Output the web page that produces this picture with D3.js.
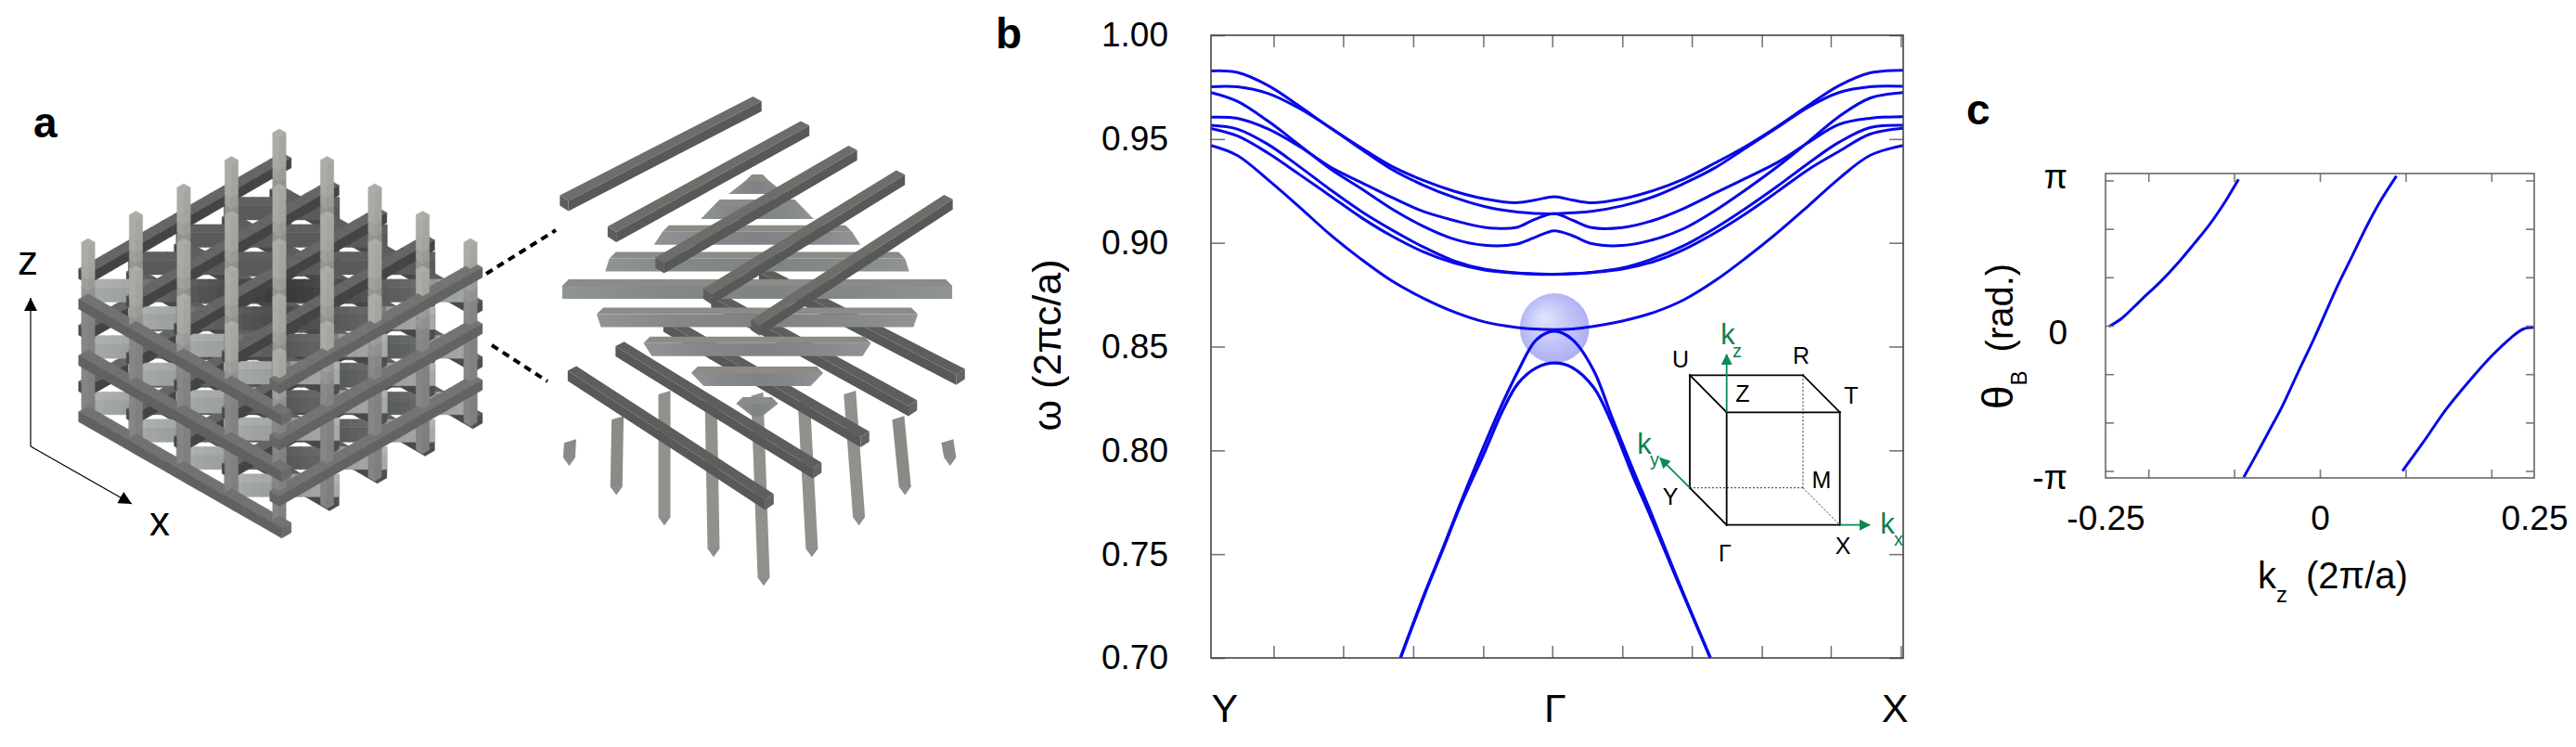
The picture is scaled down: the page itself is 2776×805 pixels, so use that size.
<!DOCTYPE html>
<html>
<head>
<meta charset="utf-8">
<script src="https://cdn.jsdelivr.net/npm/d3@7"></script>
<style>
  body { margin: 0; background: #fff; }
  text { font-family: "Liberation Sans", Arial, sans-serif; fill: #000; }
</style>
</head>
<body>
<div id="content"></div>
<script>
// panel b : band structure, k runs from Y (0) through Gamma to X (1)
var bandK = [0, .038, .083, .127, .172, .217, .261, .306, .351, .395, .440, .467, .496,
             .523, .550, .594, .639, .684, .728, .773, .818, .862, .907, .952, 1];
var bandA = [.9828, .9821, .9757, .9660, .9555, .9458, .9369, .9302, .9249, .9212, .9193, .9205, .9222,
             .9205, .9193, .9212, .9252, .9309, .9384, .9466, .9560, .9660, .9757, .9819, .9831];
var bandB = [.9752, .9752, .9719, .9649, .9555, .9451, .9354, .9279, .9219, .9175, .9149, .9142, .9140,
             .9145, .9152, .9178, .9222, .9287, .9361, .9458, .9555, .9652, .9724, .9752, .9754];
var bandC = [.9724, .9682, .9585, .9473, .9357, .9261, .9164, .9081, .9018, .8988, .8993, .9025, .9058,
             .9033, .8996, .8987, .9015, .9070, .9155, .9257, .9366, .9484, .9608, .9697, .9724];
var bandD = [.9605, .9600, .9548, .9466, .9366, .9291, .9219, .9152, .9108, .9075, .9073, .9112, .9140,
             .9108, .9073, .9073, .9108, .9167, .9239, .9312, .9387, .9481, .9570, .9600, .9608];
var bandE = [.9566, .9548, .9473, .9369, .9257, .9152, .9063, .8981, .8913, .8873, .8855, .8851, .8849,
             .8852, .8858, .8879, .8924, .8988, .9070, .9167, .9272, .9381, .9484, .9555, .9566];
var bandF = [.9551, .9515, .9431, .9331, .9227, .9122, .9033, .8958, .8903, .8869, .8854, .8849, .8848,
             .8851, .8857, .8873, .8909, .8969, .9048, .9142, .9246, .9351, .9440, .9524, .9552];
var bandG = [.9469, .9421, .9302, .9175, .9040, .8921, .8817, .8734, .8667, .8619, .8593, .8585, .8582,
             .8585, .8596, .8623, .8664, .8727, .8817, .8928, .9048, .9175, .9309, .9421, .9469];
var lowK = [.2737, .3086, .3348, .3610, .3959, .4221, .4439, .4701, .4963,
            .5224, .5530, .5791, .6097, .6359, .6751, .7214];
var bandH = [.7000, .7310, .7526, .7750, .8033, .8234, .8384, .8533, .8574,
             .8533, .8384, .8160, .7906, .7697, .7369, .7000];
var bandI = [.7000, .7306, .7521, .7739, .7996, .8197, .8324, .8398, .8421,
             .8398, .8302, .8130, .7876, .7675, .7362, .7000];
var omegaTicks = [.70, .75, .80, .85, .90, .95, 1.00];
var kTicks = [.0905, .1909, .2921, .3933, .4930, .5942, .6946, .7958, .8953, .9965];
var kLabels = ["Y", "\u0393", "X"];
var kLabelPos = [.02, .497, .988];

// panel c : Berry phase
var berryK1 = [-.2458, -.2317, -.2083, -.1849, -.1661, -.1474, -.1286, -.1099, -.0949];
var berryT1 = [-.015, .150, .561, .972, 1.346, 1.758, 2.190, 2.700, 3.164];
var berryK2 = [-.0888, -.0724, -.0583, -.0443, -.0255, -.0068, .0049, .0213, .0354, .0541, .0705, .0893];
var berryT2 = [-3.276, -2.730, -2.244, -1.758, -1.010, -.277, .209, .890, 1.421, 2.132, 2.693, 3.239];
var berryK3 = [.0963, .1197, .1478, .1760, .1994, .2228, .2369, .25];
var berryT3 = [-3.142, -2.543, -1.795, -1.159, -.673, -.262, -.075, -.037];
var kzTicks = [-.2, -.1, 0, .1, .2];
var kzLabels = [-.25, 0, .25];
var thetaTicks = [-3, -2, -1, 0, 1, 2, 3];   // in units of pi/3

// panel a : lattice of rods, in lattice units
var gridLines = [0, 1, 2, 3, 4];
var layers = [0, -1, -2];
var barRows = [-3, -2, -1, 0, 1, 2, 3];
var barHalf = [.59, 1.08, 1.59, 2.04, 1.68, 1.19, .69];
var stubCols = [-4, -3, -2, -1, 0, 1, 2, 3, 4];
var stubTop = [2.6, 3.01, 3.46, 3.31, 3.43, 3.31, 3.46, 3.01, 2.6];
var stubBottom = [2.13, 1.61, 1.07, .51, 0, .51, 1.07, 1.61, 2.13];

// inset : Brillouin zone corners
var zoneCorners = {G:[0,0,0], X:[1,0,0], T:[1,0,1], Z:[0,0,1], Y:[0,1,0], U:[0,1,1], R:[1,1,1], M:[1,1,0]};
var zoneSolid = [["G","X"],["X","T"],["T","Z"],["Z","G"],["Z","U"],["U","R"],["R","T"],["U","Y"],["Y","G"]];
var zoneDotted = [["R","M"],["M","X"],["M","Y"]];

var frame = d3.select("#content").append("svg")
                                    .attr("width",2776)
                                    .attr("height",805);
var defs = frame.append("defs");

// ---------- panel a : solid lattice ----------
var cubeCol = d3.scaleLinear().domain([0,8]).range([95,507]);
var cubeRow = d3.scaleLinear().domain([-4,4]).range([177,413]);
var cubeLevel = d3.scaleLinear().domain([0,1]).range([0,-60.7]);

function cubeP(u,v,z) {
  return [cubeCol(u+v), cubeRow(u-v)+cubeLevel(z)];
}
function polyStr(pts) {
  return pts.map(function(p) { return p[0].toFixed(1)+","+p[1].toFixed(1); }).join(" ");
}

var faces = [];
// three visible faces of a small box, pushed with a depth key
function pushBox(u0,u1,v0,v1,z0,z1,colTop,colLeft,colRight,bias) {
  var depth = (u0+u1)/2-(v0+v1)/2+(z0+z1)+bias;
  var f = [
    {pts:[cubeP(u0,v0,z1),cubeP(u1,v0,z1),cubeP(u1,v1,z1),cubeP(u0,v1,z1)], col:colTop},
    {pts:[cubeP(u0,v0,z0),cubeP(u1,v0,z0),cubeP(u1,v0,z1),cubeP(u0,v0,z1)], col:colLeft},
    {pts:[cubeP(u1,v0,z0),cubeP(u1,v1,z0),cubeP(u1,v1,z1),cubeP(u1,v0,z1)], col:colRight}
  ];
  f.forEach(function(d) { d.depth = depth; faces.push(d); });
}

var barShade = d3.scaleLinear().domain([0,.42,.62,1.4]).range(["#a8abab","#9c9fa0","#656768","#4c4d4d"]);
var zShade = d3.scaleLinear().domain([.5,-.1,-.7,-2.6]).range(["#acada7","#a8a9a4","#878888","#838484"]);

layers.forEach(function(level) {
  var yz = level, xz = level-.54, bz = level-.3;
  var sr = .1, hr = .088;
  gridLines.forEach(function(g) {
    // rods along y; the outermost one is the lighter, in front of the rest
    var outerY = g===4, outerX = g===0;
    for(var t=-.1; t<4.1; t+=.25) {
      pushBox(g-sr,g+sr,t,t+.25,yz-hr,yz+hr,outerY ? "#747473" : "#666665",outerY ? "#666" : "#484848",outerY ? "#636363" : "#444444",outerY ? 1.2 : 0);
    }
    // rods along x
    for(var t2=-.1; t2<4.1; t2+=.25) {
      pushBox(t2,t2+.25,g-sr,g+sr,xz-hr,xz+hr,outerX ? "#727272" : "#5e5e5e",outerX ? "#616161" : "#484848",outerX ? "#6b6b6b" : "#4e4e4e",outerX ? 1.2 : 0);
    }
  });
  // diagonal bars, drawn as short pieces; those behind the middle stay in shadow
  barRows.forEach(function(c,i) {
    var half = Math.min(barHalf[i],2-Math.abs(c)/2+.08);
    var del = .075;
    for(var t3=-half; t3<half; t3+=.1) {
      var d = Math.min(t3+half,half-t3);
      var col = c<0 ? barShade(1) : barShade(d);
      var uA = 2+c/2+t3, vA = 2-c/2+t3;
      var uB = uA+.11, vB = vA+.11;
      var top = [cubeP(uA-del,vA+del,bz+.13),cubeP(uB-del,vB+del,bz+.13),cubeP(uB+del,vB-del,bz+.13),cubeP(uA+del,vA-del,bz+.13)];
      var front = [cubeP(uA+del,vA-del,bz+.13),cubeP(uB+del,vB-del,bz+.13),cubeP(uB+del,vB-del,bz-.13),cubeP(uA+del,vA-del,bz-.13)];
      var key = c+2*bz+.05;
      faces.push({pts:top,col:d3.color(col).brighter(.15).formatHex(),depth:key});
      faces.push({pts:front,col:col,depth:key});
    }
  });
});
// vertical rods
gridLines.forEach(function(u) {
  gridLines.forEach(function(v) {
    for(var z=-2.64; z<.5; z+=.2) {
      var col = zShade(z);
      pushBox(u-.07,u+.07,v-.07,v+.07,z,z+.2,col,col,d3.color(col).darker(.1).formatHex(),.7);
    }
  });
});
faces.sort(function(a,b) { return a.depth-b.depth; });

frame.append("g").attr("class","cube").selectAll("polygon").data(faces).enter().append("polygon")
      .attr("points",function(d) { return polyStr(d.pts); })
      .attr("fill",function(d) { return d.col; })
      .attr("stroke",function(d) { return d.col; })
      .attr("stroke-width",.4);

// ---------- panel a : exploded part ----------
function explP(x0,y0,u,v,z) {
  return [x0+(u+v-4)*51.5, y0+(u-v)*30-1.75*(u-2)*(v-2)-(z||0)];
}
var expl = frame.append("g").attr("class","exploded");

// vertical rods at the bottom
var stubX = d3.scaleLinear().domain([0,3.4]).range([823,816]);
var stubStep = d3.scaleLinear().domain([0,3.4]).range([53.5,50]);
var stubY = d3.scaleLinear().domain([0,1]).range([631,570.3]);
stubCols.forEach(function(c,i) {
  var xt = stubX(stubTop[i])+c*stubStep(stubTop[i]), xb = stubX(stubBottom[i])+c*stubStep(stubBottom[i]);
  var yt = stubY(stubTop[i]), yb = stubY(stubBottom[i]);
  expl.append("polygon").attr("points",polyStr([[xt-6.5,yt+4],[xt+6.5,yt],[xb+6.5,yb-9],[xb,yb],[xb-6.5,yb-9]]))
      .attr("fill",Math.abs(c)>=3 ? "#8a8b87" : "#90918c");
  expl.append("polygon").attr("points",polyStr([[xb-6.5,yb-9],[xb+6.5,yb-9],[xb,yb]])).attr("fill","#8b8e8f");
});

// rods along x, back to front
gridLines.slice().reverse().forEach(function(j) {
  var a = explP(824,405,-.03,j+.09), b = explP(824,405,4.1,j+.09), c = explP(824,405,4.1,j-.09), d = explP(824,405,-.03,j-.09);
  var low = function(p) { return [p[0],p[1]+11]; };
  expl.append("polygon").attr("points",polyStr([d,c,low(c),low(d)])).attr("fill","#575858");
  expl.append("polygon").attr("points",polyStr([a,b,c,d])).attr("fill","#5e5e5d");
  expl.append("polygon").attr("points",polyStr([c,b,low(b),low(c)])).attr("fill","#636363");
});

// diagonal bars
var barGrad = defs.append("linearGradient").attr("id","barGrad");
[[0,"#919494"],[.25,"#858889"],[.5,"#808384"],[.75,"#858889"],[1,"#919494"]].forEach(function(s) {
  barGrad.append("stop").attr("offset",s[0]).attr("stop-color",s[1]);
});
var barX = d3.scaleLinear().domain([-2,2]).range([816-206,816+206]);
var barY = function(c) { return 312+c*30+1.75*c*c/4; };
function drawBar(c,half) {
  var x0 = barX(-half), x1 = barX(half), yc = barY(c), bev = Math.abs(c)*4.5;
  var topIn = c<0 ? bev : 0, botIn = c>0 ? bev : 0;
  expl.append("polygon").attr("points",polyStr([[x0+topIn+7,yc-11],[x1-topIn-7,yc-11],[x1-topIn,yc-4],[x0+topIn,yc-4]])).attr("fill","#8c8b85");
  expl.append("polygon").attr("points",polyStr([[x0+topIn,yc-4],[x1-topIn,yc-4],[x1-botIn,yc+10],[x0+botIn,yc+10]])).attr("fill","url(#barGrad)");
}
drawBar(-4,.3);
barRows.forEach(function(c,i) { drawBar(c,barHalf[i]); });
drawBar(4,.22);

// rods along y, back to front
gridLines.forEach(function(i) {
  var a = explP(815,220,i-.09,-.02), b = explP(815,220,i-.09,4.02), c = explP(815,220,i+.09,4.02), d = explP(815,220,i+.09,-.02);
  var low = function(p) { return [p[0],p[1]+11]; };
  expl.append("polygon").attr("points",polyStr([a,b,c,d])).attr("fill","#6e6d69");
  expl.append("polygon").attr("points",polyStr([d,c,low(c),low(d)])).attr("fill","#575858");
  expl.append("polygon").attr("points",polyStr([a,d,low(d),low(a)])).attr("fill","#5d5d5b");
});

// axes arrows and dashes of panel a
defs.append("marker").attr("id","arrowBlack").attr("viewBox","0 0 10 10").attr("refX",10).attr("refY",5)
    .attr("markerUnits","userSpaceOnUse").attr("markerWidth",18).attr("markerHeight",14).attr("orient","auto")
    .append("path").attr("d","M0,0L10,5L0,10Z").attr("fill","#000");
frame.append("line").attr("x1",33).attr("y1",481).attr("x2",33).attr("y2",321)
      .attr("stroke","#000").attr("stroke-width",1.2).attr("marker-end","url(#arrowBlack)");
frame.append("line").attr("x1",33).attr("y1",481).attr("x2",142).attr("y2",543)
      .attr("stroke","#000").attr("stroke-width",1.2).attr("marker-end","url(#arrowBlack)");
frame.append("text").attr("x",30).attr("y",296).attr("text-anchor","middle").attr("font-size",44).text("z");
frame.append("text").attr("x",172).attr("y",577).attr("text-anchor","middle").attr("font-size",44).text("x");
frame.append("line").attr("x1",524).attr("y1",295).attr("x2",599).attr("y2",248)
      .attr("stroke","#000").attr("stroke-width",4).attr("stroke-dasharray","8,6");
frame.append("line").attr("x1",530).attr("y1",372).attr("x2",590).attr("y2",411)
      .attr("stroke","#000").attr("stroke-width",4).attr("stroke-dasharray","8,6");

// panel letters
frame.append("text").attr("x",36).attr("y",148).attr("font-size",46).attr("font-weight","bold").text("a");
frame.append("text").attr("x",1073).attr("y",52).attr("font-size",46).attr("font-weight","bold").text("b");
frame.append("text").attr("x",2119).attr("y",134).attr("font-size",46).attr("font-weight","bold").text("c");

// ---------- panel b ----------
var bandX = d3.scaleLinear().domain([0,1]).range([1305,2051]);
var bandY = d3.scaleLinear().domain([.70,1.00]).range([709,38]);
var bandLine = d3.line().x(function(d) { return bandX(d[0]); }).y(function(d) { return bandY(d[1]); }).curve(d3.curveCatmullRom.alpha(.5));

var sphere = defs.append("radialGradient").attr("id","sphereFill").attr("cx",.5).attr("cy",.5).attr("r",.6).attr("fx",.33).attr("fy",.33);
sphere.append("stop").attr("offset",0).attr("stop-color","#e3e5fb");
sphere.append("stop").attr("offset",.55).attr("stop-color","#c0c2f7");
sphere.append("stop").attr("offset",1).attr("stop-color","#a6a8f4");
frame.append("circle").attr("cx",bandX(.4963)).attr("cy",bandY(.8589)).attr("r",37.5).attr("fill","url(#sphereFill)");

var bandGroup = frame.append("g").attr("class","bands");
[bandA,bandB,bandC,bandD,bandE,bandF,bandG].forEach(function(b) {
  bandGroup.append("path").datum(d3.zip(bandK,b)).attr("d",bandLine)
            .attr("fill","none").attr("stroke","#0808e8").attr("stroke-width",3);
});
[bandH,bandI].forEach(function(b) {
  bandGroup.append("path").datum(d3.zip(lowK,b)).attr("d",bandLine)
            .attr("fill","none").attr("stroke","#0808e8").attr("stroke-width",3.2);
});

function styleAxis(g) {
  g.select(".domain").remove();
  g.selectAll("line").attr("stroke","#777").attr("stroke-width",1.6);
  g.selectAll("text").attr("font-size",37).attr("fill","#000")
    .attr("font-family","'Liberation Sans', Arial, sans-serif");
}
frame.append("g").attr("transform","translate(1305,0)")
      .call(d3.axisLeft(bandY).tickValues(omegaTicks).tickFormat(d3.format(".2f")).tickSize(-15).tickPadding(46)).call(styleAxis);
frame.append("g").attr("transform","translate(2051,0)")
      .call(d3.axisRight(bandY).tickValues(omegaTicks).tickFormat("").tickSize(-15)).call(styleAxis);
frame.append("g").attr("transform","translate(0,38)")
      .call(d3.axisTop(bandX).tickValues(kTicks).tickFormat("").tickSize(-13)).call(styleAxis);
frame.append("g").attr("transform","translate(0,709)")
      .call(d3.axisBottom(bandX).tickValues(kTicks).tickFormat("").tickSize(-13)).call(styleAxis);
frame.append("rect").attr("x",1305).attr("y",38).attr("width",746).attr("height",671)
      .attr("fill","none").attr("stroke","#444").attr("stroke-width",1.6);

kLabels.forEach(function(t,i) {
  frame.append("text").attr("x",bandX(kLabelPos[i])).attr("y",778).attr("text-anchor","middle").attr("font-size",43).text(t);
});
frame.append("text").attr("transform","translate(1143,372) rotate(-90)").attr("text-anchor","middle")
      .attr("font-size",43).text("\u03c9 (2\u03c0c/a)");

// inset Brillouin zone
var zoneX = d3.scaleLinear().domain([0,1]).range([1860.7,1982.7]);
var zoneY = d3.scaleLinear().domain([0,1]).range([565.7,444.3]);
function zoneP(c) {
  var p = zoneCorners[c];
  return [zoneX(p[0])-39.7*p[1], zoneY(p[2])-40*p[1]];
}
var inset = frame.append("g").attr("class","inset");
zoneDotted.forEach(function(e) {
  var a = zoneP(e[0]), b = zoneP(e[1]);
  inset.append("line").attr("x1",a[0]).attr("y1",a[1]).attr("x2",b[0]).attr("y2",b[1])
        .attr("stroke","#333").attr("stroke-width",1).attr("stroke-dasharray","2,2");
});
defs.append("marker").attr("id","arrowGreen").attr("viewBox","0 0 10 10").attr("refX",9).attr("refY",5)
    .attr("markerUnits","userSpaceOnUse").attr("markerWidth",12).attr("markerHeight",12).attr("orient","auto")
    .append("path").attr("d","M0,0L10,5L0,10Z").attr("fill","#0b8a55");
var arrowEnds = [["Z",0,-62],["X",32,0],["Y",-32,-32]];
zoneSolid.forEach(function(e) {
  var a = zoneP(e[0]), b = zoneP(e[1]);
  inset.append("line").attr("x1",a[0]).attr("y1",a[1]).attr("x2",b[0]).attr("y2",b[1])
        .attr("stroke","#000").attr("stroke-width",1.8).attr("stroke-linecap","square");
});
arrowEnds.forEach(function(e) {
  var a = zoneP(e[0]);
  inset.append("line").attr("x1",a[0]).attr("y1",a[1]).attr("x2",a[0]+e[1]).attr("y2",a[1]+e[2])
        .attr("stroke","#0b8a55").attr("stroke-width",1.8).attr("marker-end","url(#arrowGreen)");
});
var zoneText = [["U",1811,396],["R",1941,392],["Z",1878,433],["T",1995,435],["Y",1800,544],["M",1963,526],["\u0393",1859,605],["X",1986,597]];
zoneText.forEach(function(t) {
  inset.append("text").attr("x",t[1]).attr("y",t[2]).attr("text-anchor","middle").attr("font-size",25).text(t[0]);
});
var greenText = [["k",1862,371,31],["z",1872,385,20],["k",1772,489,31],["y",1783,502,20],["k",2034,575,31],["x",2046,588,20]];
greenText.forEach(function(t) {
  inset.append("text").attr("x",t[1]).attr("y",t[2]).attr("text-anchor","middle").attr("font-size",t[3]).style("fill","#0b7f52").text(t[0]);
});

// ---------- panel c ----------
var berryX = d3.scaleLinear().domain([-.25,.25]).range([2269,2731]);
var berryY = d3.scaleLinear().domain([-Math.PI-.15,Math.PI+.15]).range([515,187]);
var berryLine = d3.line().x(function(d) { return berryX(d[0]); }).y(function(d) { return berryY(d[1]); }).curve(d3.curveCatmullRom.alpha(.5));
[[berryK1,berryT1],[berryK2,berryT2],[berryK3,berryT3]].forEach(function(s) {
  frame.append("path").datum(d3.zip(s[0],s[1])).attr("d",berryLine)
        .attr("fill","none").attr("stroke","#0808e8").attr("stroke-width",3);
});
var thetaVals = thetaTicks.map(function(t) { return t*Math.PI/3; });
function thetaName(v) {
  var n = Math.round(v/(Math.PI/3));
  return n===3 ? "\u03c0" : n===-3 ? "-\u03c0" : n===0 ? "0" : "";
}
frame.append("g").attr("transform","translate(2269,0)")
      .call(d3.axisLeft(berryY).tickValues(thetaVals).tickFormat(thetaName).tickSize(-9).tickPadding(41)).call(styleAxis)
      .selectAll("text").attr("dy",function(d) { return Math.abs(d)<.1 ? ".52em" : d<0 ? ".52em" : ".22em"; });
frame.append("g").attr("transform","translate(2731,0)")
      .call(d3.axisRight(berryY).tickValues(thetaVals).tickFormat("").tickSize(-9)).call(styleAxis);
frame.append("g").attr("transform","translate(0,187)")
      .call(d3.axisTop(berryX).tickValues(kzTicks).tickFormat("").tickSize(-9)).call(styleAxis);
frame.append("g").attr("transform","translate(0,515)")
      .call(d3.axisBottom(berryX).tickValues(kzTicks).tickFormat("").tickSize(-9)).call(styleAxis);
frame.append("g").attr("transform","translate(0,515)")
      .call(d3.axisBottom(berryX).tickValues(kzLabels).tickFormat(function(d) { return d===0 ? "0" : d3.format(".2f")(d).replace("\u2212","-"); }).tickSize(0).tickPadding(30)).call(styleAxis);
frame.append("rect").attr("x",2269).attr("y",187).attr("width",462).attr("height",328)
      .attr("fill","none").attr("stroke","#666").attr("stroke-width",1.6);

var xTitle = frame.append("text").attr("x",2433).attr("y",634).attr("font-size",40);
xTitle.append("tspan").text("k");
xTitle.append("tspan").attr("font-size",24).attr("dy",15).text("z");
xTitle.append("tspan").attr("dy",-15).attr("dx",20).text("(2\u03c0/a)");

var yTitle = frame.append("text").attr("transform","translate(2169,441) rotate(-90)").attr("font-size",40);
yTitle.append("tspan").attr("font-size",46).text("\u03b8");
yTitle.append("tspan").attr("font-size",24).attr("dy",15).text("B");
yTitle.append("tspan").attr("dy",-15).attr("dx",20).text("(rad.)");
</script>
</body>
</html>
